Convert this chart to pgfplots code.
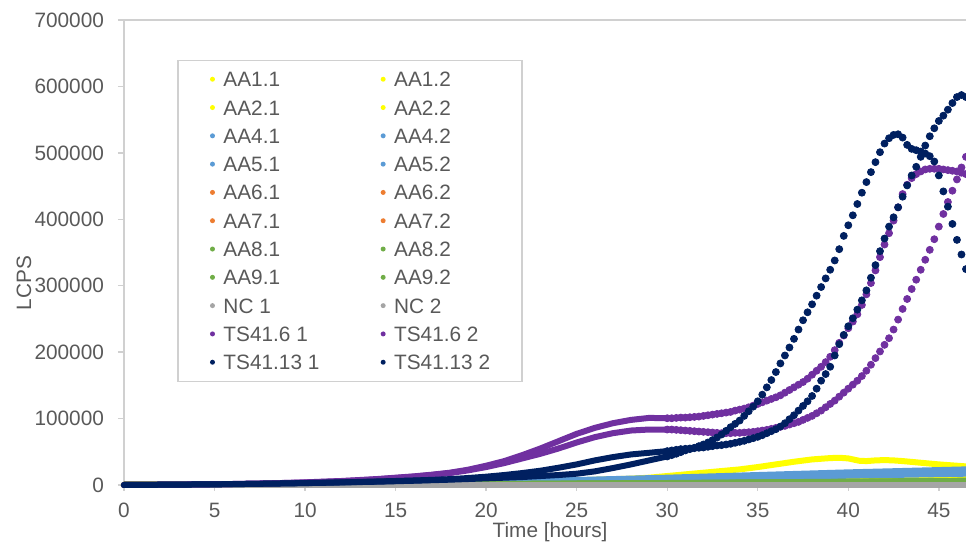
\documentclass[border=0pt]{standalone}
\usepackage{pgfplots}
\pgfplotsset{compat=1.18}
\usepackage{fontspec}
\setmainfont{Liberation Sans}
\definecolor{cyel}{HTML}{FFFF00}
\definecolor{cblu}{HTML}{5B9BD5}
\definecolor{cora}{HTML}{ED7D31}
\definecolor{cgrn}{HTML}{70AD47}
\definecolor{cgry}{HTML}{A5A5A5}
\definecolor{cpur}{HTML}{7030A0}
\definecolor{cnav}{HTML}{002060}
\definecolor{ctxt}{HTML}{595959}
\definecolor{caxis}{HTML}{D0D0D0}
\newcommand\fs{\fontsize{10.4}{12.5}\selectfont}
\pgfplotsset{
 legdot/.style={legend image code/.code={\path[draw=none,fill=none] (-1.2pt,-1.2pt) rectangle (5.5pt,1.2pt); \path[fill=#1, draw=none] (0pt,0pt) circle (1.25pt);}},
 band/.style={draw=#1, line width=3pt, line cap=round, line join=round, mark=none, legdot=#1},
 band0/.style={draw=#1, line width=3pt, line cap=round, line join=round, mark=none, forget plot},
 dots/.style={only marks, mark=*, mark size=1.75pt, color=#1, mark options={draw=none, fill=#1}, legdot=#1},
}
\begin{document}
\begin{tikzpicture}
\begin{axis}[
  scale only axis, width=421pt, height=232.5pt,
  xmin=0, xmax=46.5, ymin=0, ymax=700000,
  enlargelimits=false, clip=false,
  axis lines=left,
  axis line style={-, draw=caxis, line width=0.7pt},
  tick align=outside, major tick length=3pt,
  tick style={caxis, line width=0.7pt},
  xtick={0,5,...,45},
  ytick={0,100000,...,700000},
  scaled y ticks=false,
  /pgf/number format/assume math mode=true,
  yticklabel style={/pgf/number format/fixed, /pgf/number format/1000 sep={}, font=\fs, text=ctxt, xshift=-3.5pt},
  xticklabel style={font=\fs, text=ctxt, yshift=-2.5pt},
  xlabel={Time [hours]}, ylabel={LCPS},
  every axis x label/.style={at={(rel axis cs:0.506,0)}, yshift=-23.5pt, anchor=center, font=\fs, text=ctxt},
  every axis y label/.style={at={(rel axis cs:0,0.434)}, xshift=-50pt, rotate=90, anchor=center, font=\fs, text=ctxt},
  legend columns=2,
  legend cell align=left,
  legend style={at={(rel axis cs:0.0633,0.915)}, anchor=north west, draw=caxis, line width=0.7pt, fill=white,
    font=\fs, text=ctxt, inner xsep=16pt, inner ysep=5.75pt, row sep=6.65pt,
    nodes={inner xsep=0pt, inner ysep=0pt, text height=7.5pt, text depth=0pt},
    /tikz/every even column/.append style={column sep=30.6pt}},
]
\draw[caxis, line width=0.7pt] (rel axis cs:0,1) -- (rel axis cs:1,1);
% yellow
\addplot[band=cyel] coordinates {(0,0) (5,500) (10,1500) (15,3000) (20,4500) (25,7000) (28,9500) (29,11000) (30,13500) (31,16000) (32,18500) (33,21000) (34,23500) (35,27000) (36,31000) (37,35000) (38,38500) (39,40500) (39.5,41000) (40,40000) (40.6,36500) (41,36000) (41.5,37000) (42,37500) (42.5,37000) (43,36000) (44,33500) (45,31000) (46,29000) (46.5,28000)};
\addlegendentry{AA1.1}
\addplot[band=cyel] coordinates {(0,0) (10,1200) (20,3500) (25,5500) (30,8000) (35,11000) (40,14000) (46.5,17000)};
\addlegendentry{AA1.2}
\addplot[band=cyel] coordinates {(0,0) (10,1000) (20,3000) (25,5000) (30,7500) (35,10500) (40,13500) (46.5,16000)};
\addlegendentry{AA2.1}
\addplot[band=cyel] coordinates {(0,0) (10,1000) (20,3000) (30,7000) (40,12000) (46.5,15000)};
\addlegendentry{AA2.2}
% blue
\addplot[band=cblu] coordinates {(0,0) (5,500) (10,1500) (15,3000) (20,5000) (25,7500) (30,11000) (35,15000) (40,19000) (46.5,23500)};
\addlegendentry{AA4.1}
\addplot[band=cblu] coordinates {(0,0) (10,1300) (20,4500) (25,7000) (30,10000) (35,13500) (40,17000) (46.5,21000)};
\addlegendentry{AA4.2}
\addplot[band=cblu] coordinates {(0,0) (10,1200) (20,4000) (30,9000) (35,12000) (40,15000) (46.5,18500)};
\addlegendentry{AA5.1}
\addplot[band=cblu] coordinates {(0,0) (10,1000) (20,3500) (30,8000) (35,11000) (40,14000) (46.5,17000)};
\addlegendentry{AA5.2}
% orange
\addplot[band=cora] coordinates {(0,0) (10,300) (20,800) (30,1500) (40,2500) (46.5,3000)};
\addlegendentry{AA6.1}
\addplot[band=cora] coordinates {(0,0) (10,300) (20,700) (30,1300) (40,2200) (46.5,2800)};
\addlegendentry{AA6.2}
\addplot[band=cora] coordinates {(0,0) (10,200) (20,600) (30,1200) (40,2000) (46.5,2500)};
\addlegendentry{AA7.1}
\addplot[band=cora] coordinates {(0,0) (10,200) (20,500) (30,1000) (40,1800) (46.5,2300)};
\addlegendentry{AA7.2}
% green
\addplot[band=cgrn] coordinates {(0,0) (10,500) (20,1500) (30,3000) (40,5000) (46.5,6500)};
\addlegendentry{AA8.1}
\addplot[band=cgrn] coordinates {(0,0) (10,400) (20,1200) (30,2500) (40,4500) (46.5,6000)};
\addlegendentry{AA8.2}
\addplot[band=cgrn] coordinates {(0,0) (10,400) (20,1300) (30,2700) (40,4700) (46.5,6200)};
\addlegendentry{AA9.1}
\addplot[band=cgrn] coordinates {(0,0) (10,300) (20,1000) (30,2200) (40,4000) (46.5,5500)};
\addlegendentry{AA9.2}
% gray
\addplot[band=cgry] coordinates {(0,0) (10,0) (20,0) (30,0) (40,0) (46.5,0)};
\addlegendentry{NC 1}
\addplot[band=cgry] coordinates {(0,0) (10,0) (20,0) (30,0) (40,0) (46.5,0)};
\addlegendentry{NC 2}
% TS41.6 1
\addplot[band0=cpur] coordinates {(0,0) (1,200) (2,400) (3,600) (4,900) (5,1200) (6,1500) (7,2000) (8,2500) (9,3200) (10,4000) (11,5000) (12,6000) (13,7500) (14,9000) (15,11000) (16,13000) (17,15500) (18,18500) (19,23000) (20,29000) (21,36000) (22,45000) (23,55000) (24,66000) (25,77000) (26,86000) (27,93000) (28,98000) (29,101000) (30,100500)};
\addplot[dots=cpur] coordinates {(30.00,100500) (30.25,100500) (30.50,101000) (30.75,101500) (31.00,101500) (31.25,102000) (31.50,102500) (31.75,103000) (32.00,104000) (32.25,105000) (32.50,106000) (32.75,107000) (33.00,108000) (33.25,109000) (33.50,110000) (33.75,112000) (34.00,113500) (34.25,115000) (34.50,117000) (34.75,119500) (35.00,122000) (35.25,124500) (35.50,127000) (35.75,129500) (36.00,132000) (36.25,135000) (36.50,139000) (36.75,143000) (37.00,147000) (37.25,151000) (37.50,155000) (37.75,160000) (38.00,166000) (38.25,172000) (38.50,178000) (38.75,185000) (39.00,193000) (39.25,203000) (39.50,214000) (39.75,225000) (40.00,236000) (40.25,246000) (40.50,257000) (40.75,271000) (41.00,287000) (41.25,304000) (41.50,323000) (41.75,343000) (42.00,362000) (42.25,379000) (42.50,398000) (42.75,418000) (43.00,438000) (43.25,452000) (43.50,462000) (43.75,468000) (44.00,472000) (44.25,475000) (44.50,476000) (44.75,476000) (45.00,476000) (45.25,475000) (45.50,474000) (45.75,473000) (46.00,472000) (46.25,470000) (46.50,468000)};
\addlegendentry{TS41.6 1}
% TS41.6 2
\addplot[band0=cpur] coordinates {(0,0) (1,200) (2,400) (3,600) (4,900) (5,1200) (6,1500) (7,2000) (8,2500) (9,3100) (10,3800) (11,4700) (12,5700) (13,7000) (14,8500) (15,10500) (16,12500) (17,15000) (18,18000) (19,22000) (20,27000) (21,33000) (22,40000) (23,47000) (24,55000) (25,64000) (26,72000) (27,78000) (28,82000) (29,83500) (30,83500)};
\addplot[dots=cpur] coordinates {(30.00,83500) (30.25,83500) (30.50,83000) (30.75,82500) (31.00,82000) (31.25,81500) (31.50,81000) (31.75,80500) (32.00,80000) (32.25,79500) (32.50,79000) (32.75,78500) (33.00,78000) (33.25,78000) (33.50,78000) (33.75,78500) (34.00,78500) (34.25,79000) (34.50,79500) (34.75,80000) (35.00,81000) (35.25,82000) (35.50,83000) (35.75,84500) (36.00,86000) (36.25,87500) (36.50,89000) (36.75,91000) (37.00,93000) (37.25,95000) (37.50,98000) (37.75,101000) (38.00,104000) (38.25,108000) (38.50,112000) (38.75,117000) (39.00,122000) (39.25,127000) (39.50,133000) (39.75,139000) (40.00,145000) (40.25,151000) (40.50,157000) (40.75,164000) (41.00,172000) (41.25,181000) (41.50,191000) (41.75,201000) (42.00,211000) (42.25,221000) (42.50,234000) (42.75,249000) (43.00,265000) (43.25,280000) (43.50,295000) (43.75,309000) (44.00,324000) (44.25,339000) (44.50,354000) (44.75,370000) (45.00,389000) (45.25,408000) (45.50,426000) (45.75,443000) (46.00,460000) (46.25,478000) (46.50,494000)};
\addlegendentry{TS41.6 2}
% TS41.13 1
\addplot[band0=cnav] coordinates {(0,0) (1,200) (2,400) (3,600) (4,800) (5,1000) (6,1300) (7,1600) (8,2000) (9,2400) (10,2800) (11,3300) (12,3800) (13,4400) (14,5000) (15,5700) (16,6400) (17,7200) (18,8000) (19,9000) (20,10000) (21,11000) (22,12000) (23,13500) (24,15000) (25,17000) (26,20500) (27,25500) (28,31000) (29,37000) (30,43000)};
\addplot[dots=cnav] coordinates {(30.00,43000) (30.25,45000) (30.50,47000) (30.75,49500) (31.00,52000) (31.25,54000) (31.50,56000) (31.75,58500) (32.00,61000) (32.25,64000) (32.50,67500) (32.75,71500) (33.00,76000) (33.25,81500) (33.50,87000) (33.75,92000) (34.00,97000) (34.25,104000) (34.50,111000) (34.75,118000) (35.00,126000) (35.25,136000) (35.50,147000) (35.75,158000) (36.00,170000) (36.25,183000) (36.50,195000) (36.75,207000) (37.00,220000) (37.25,234000) (37.50,248000) (37.75,260000) (38.00,272000) (38.25,285000) (38.50,298000) (38.75,311000) (39.00,324000) (39.25,338000) (39.50,355000) (39.75,375000) (40.00,391000) (40.25,406000) (40.50,423000) (40.75,440000) (41.00,456000) (41.25,471000) (41.50,486000) (41.75,501000) (42.00,514000) (42.25,522000) (42.50,527000) (42.75,528000) (43.00,523000) (43.25,512000) (43.50,506000) (43.75,504000) (44.00,502000) (44.25,499000) (44.50,495000) (44.75,487000) (45.00,466000) (45.25,442000) (45.50,419000) (45.75,393000) (46.00,369000) (46.25,347000) (46.50,325000)};
\addlegendentry{TS41.13 1}
% TS41.13 2
\addplot[band0=cnav] coordinates {(0,0) (1,200) (2,400) (3,600) (4,800) (5,1000) (6,1300) (7,1600) (8,2000) (9,2400) (10,2900) (11,3400) (12,4000) (13,4600) (14,5300) (15,6000) (16,6800) (17,7700) (18,8800) (19,10500) (20,12500) (21,15000) (22,18000) (23,21500) (24,26000) (25,31000) (26,37000) (27,42000) (28,46000) (29,48500) (30,51000)};
\addplot[dots=cnav] coordinates {(30.00,51000) (30.25,52000) (30.50,53000) (30.75,54000) (31.00,54500) (31.25,55000) (31.50,55500) (31.75,56000) (32.00,56500) (32.25,57500) (32.50,58500) (32.75,59500) (33.00,60000) (33.25,61000) (33.50,62000) (33.75,63500) (34.00,65000) (34.25,66500) (34.50,68500) (34.75,70500) (35.00,72500) (35.25,75000) (35.50,78000) (35.75,81000) (36.00,84000) (36.25,88000) (36.50,93000) (36.75,99000) (37.00,105000) (37.25,112000) (37.50,119000) (37.75,126000) (38.00,134000) (38.25,145000) (38.50,157000) (38.75,167000) (39.00,178000) (39.25,195000) (39.50,212000) (39.75,226000) (40.00,239000) (40.25,251000) (40.50,264000) (40.75,278000) (41.00,293000) (41.25,312000) (41.50,331000) (41.75,352000) (42.00,371000) (42.25,389000) (42.50,403000) (42.75,418000) (43.00,434000) (43.25,451000) (43.50,466000) (43.75,479000) (44.00,494000) (44.25,511000) (44.50,525000) (44.75,537000) (45.00,548000) (45.25,556000) (45.50,565000) (45.75,575000) (46.00,584000) (46.25,587000) (46.50,584000)};
\addlegendentry{TS41.13 2}
\coordinate (O) at (rel axis cs:0,0);
\coordinate (T) at (rel axis cs:1,1);
\end{axis}
\pgfresetboundingbox
\path ([xshift=-62pt,yshift=-30.5pt]O) rectangle ([yshift=10pt]T);
\end{tikzpicture}
\end{document}
